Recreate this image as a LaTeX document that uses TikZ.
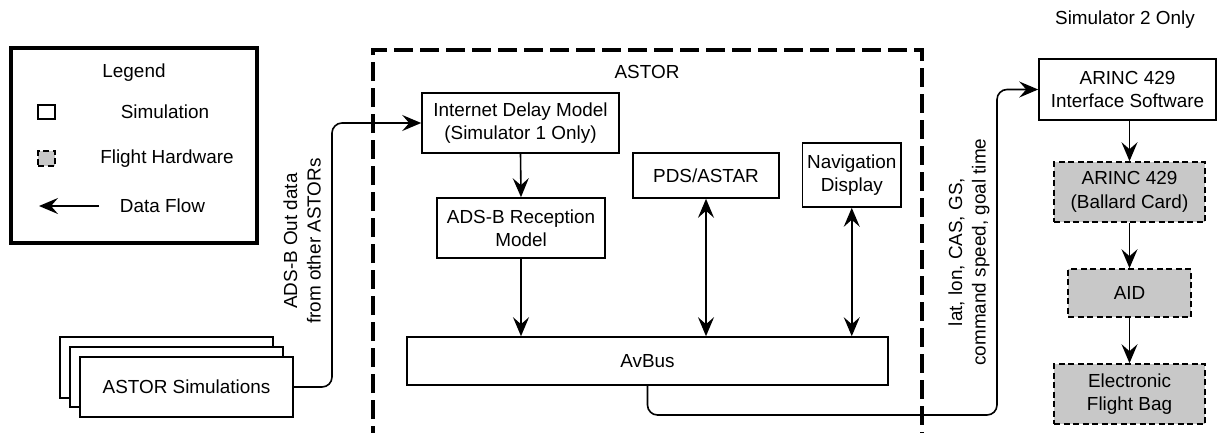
\documentclass[tikz,border=0pt]{standalone}
\usepackage{fontspec}
\setmainfont{Liberation Sans}
\usetikzlibrary{arrows.meta,calc}
\definecolor{hwgray}{RGB}{200,200,200}
\begin{document}
\begin{tikzpicture}[x=1pt,y=-1pt,
  every node/.style={font=\fontsize{18.9}{23.5}\selectfont, inner sep=0pt, align=center},
  simbox/.style={draw, line width=1.6pt, fill=white},
  hwbox/.style={draw, line width=1.6pt, fill=hwgray, dash pattern=on 6pt off 3.5pt},
  flow/.style={line width=1.6pt, -{Stealth[length=19pt,width=16pt,inset=7pt]}},
  biflow/.style={line width=1.6pt, {Stealth[length=19pt,width=16pt,inset=7pt]}-{Stealth[length=19pt,width=16pt,inset=7pt]}},
  lbl/.style={}
]
\useasboundingbox (0,0) rectangle (1217,432);

% Legend
\node[draw, line width=4pt, minimum width=246pt, minimum height=195pt] (legend) at (134,145.5) {};
\node[lbl] (legtitle) at (134,73) {Legend};
\node[simbox, minimum width=17pt, minimum height=14pt] (legsim) at (46.5,112) {};
\node[lbl] (legsimt) at (165,112) {Simulation};
\node[hwbox, minimum width=17pt, minimum height=15pt] (leghw) at (46.5,158.5) {};
\node[lbl] (leghwt) at (167,159) {Flight Hardware};
\coordinate (lfa) at (99,206);
\coordinate (lfb) at (39,206);
\draw[flow] (lfa) -- (lfb);
\node[lbl] (legflow) at (162.5,206) {Data Flow};

% ASTOR dashed region
\draw[line width=3.5pt, dash pattern=on 19pt off 7pt] (373,445) -- (373,50) -- (922,50) -- (922,445);
\node[lbl] (astorlbl) at (647,72) {ASTOR};

% ASTOR simulations stack
\node[simbox, minimum width=213pt, minimum height=61pt] (simc) at (166.5,367.5) {};
\node[simbox, minimum width=213pt, minimum height=60pt] (simb) at (176.5,377) {};
\node[simbox, minimum width=213pt, minimum height=60pt] (sim) at (186.5,387) {ASTOR Simulations};

% ASTOR internals
\node[simbox, minimum width=197pt, minimum height=60pt] (idm) at (520.5,123) {Internet Delay Model\\(Simulator 1 Only)};
\node[simbox, minimum width=168pt, minimum height=60pt] (adsb) at (521,228) {ADS-B Reception\\Model};
\node[simbox, minimum width=481pt, minimum height=48pt] (avbus) at (647.5,361) {AvBus};
\node[simbox, minimum width=146pt, minimum height=45pt] (pds) at (706,175.5) {PDS/ASTAR};
\node[simbox, minimum width=98.5pt, minimum height=64pt] (nav) at (851.75,175) {Navigation\\Display};

% Right side
\node[lbl] (sim2) at (1125,20) {Simulator 2 Only};
\node[simbox, minimum width=177pt, minimum height=61pt] (ais) at (1127.5,89.5) {ARINC 429\\Interface Software};
\node[hwbox, minimum width=151pt, minimum height=60pt] (ballard) at (1129.5,192) {ARINC 429\\(Ballard Card)};
\node[hwbox, minimum width=123pt, minimum height=48pt] (aid) at (1129.5,293) {AID};
\node[hwbox, minimum width=151pt, minimum height=60pt] (efb) at (1129.5,394) {Electronic\\Flight Bag};

% Labels
\node[lbl, rotate=90] (adsblbl) at (302,241) {ADS-B Out data\\from other ASTORs};
\node[lbl, rotate=90] (datalbl) at (969,252) {lat, lon, CAS, GS,\\command speed, goal time};

% Connectors
\coordinate (c2) at (332,123);
\draw[flow, rounded corners=10pt] (sim.east) -| (c2) -- (idm.west);
\draw[flow] (idm.south) -- (adsb.north);
\draw[flow] (adsb.south) -- (adsb.south |- avbus.north);
\draw[biflow] (pds.south) -- (pds.south |- avbus.north);
\draw[biflow] (nav.south) -- (nav.south |- avbus.north);
\coordinate (c1) at (997,415);
\draw[flow, rounded corners=10pt] (avbus.south) |- (c1) |- (ais.west);
\draw[flow] (ballard.north |- ais.south) -- (ballard.north);
\draw[flow] (ballard.south) -- (aid.north);
\draw[flow] (aid.south) -- (efb.north);
\end{tikzpicture}
\end{document}
